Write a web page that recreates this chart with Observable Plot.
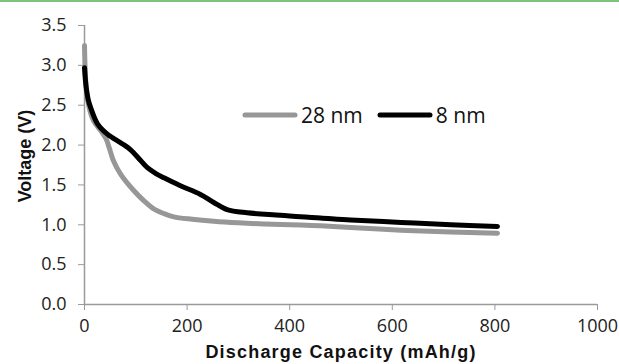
<!DOCTYPE html>
<html>
<head>
<meta charset="utf-8">
<script src="https://cdn.jsdelivr.net/npm/d3@7"></script>
<script src="https://cdn.jsdelivr.net/npm/@observablehq/plot@0.6"></script>
<style>
  html, body { margin: 0; padding: 0; background: #fff; }
  #wrap { position: relative; width: 619px; height: 364px; overflow: hidden; }
  #topline { position: absolute; left: 0; top: 0; width: 619px; height: 2px; background: #7dc47f; }
  #legend { position: absolute; left: 242px; top: 101px; font-family: "Open Sans", sans-serif; font-size: 21px; color: #111; display: flex; align-items: center; white-space: nowrap; }
  #legend .item { display: flex; align-items: center; }
  #legend svg { display: block; }
</style>
</head>
<body>
<div id="wrap">
  <div id="chart"></div>
  <div id="topline"></div>
  <div id="legend"></div>
</div>
<script>
const seriesNames = ["28 nm", "8 nm"];
const seriesColors = ["#979797", "#000000"];

const cap28 = [0, 1, 3, 8, 18, 32, 42, 48, 56, 70, 96, 116, 135, 155, 174, 210, 252, 300, 350, 421, 460, 519, 617, 714, 805];
const volt28 = [3.25, 3.0, 2.75, 2.5, 2.3, 2.18, 2.08, 1.97, 1.81, 1.64, 1.43, 1.3, 1.2, 1.14, 1.1, 1.07, 1.045, 1.025, 1.01, 0.997, 0.987, 0.965, 0.932, 0.91, 0.895];

const cap8 = [0, 2, 4, 8, 12, 25, 44, 70, 80, 90, 109, 122, 140, 155, 187, 226, 252, 278, 317, 382, 421, 460, 519, 617, 714, 805];
const volt8 = [2.97, 2.8, 2.69, 2.55, 2.47, 2.27, 2.14, 2.03, 1.99, 1.94, 1.81, 1.72, 1.64, 1.59, 1.49, 1.38, 1.28, 1.19, 1.15, 1.12, 1.1, 1.085, 1.06, 1.03, 1.0, 0.98];

const xTicks = [0, 200, 400, 600, 800, 1000];
const yTicks = [0, 0.5, 1.0, 1.5, 2.0, 2.5, 3.0, 3.5];

const xTitle = "Discharge Capacity (mAh/g)";
const yTitle = "Voltage (V)";

const data = [
  ...cap28.map((c, i) => ({series: seriesNames[0], cap: c, v: volt28[i]})),
  ...cap8.map((c, i) => ({series: seriesNames[1], cap: c, v: volt8[i]}))
];

const axisColor = "#9a9a9a";

const chart = Plot.plot({
  width: 619,
  height: 364,
  marginTop: 25,
  marginRight: 22,
  marginBottom: 60,
  marginLeft: 84,
  style: {fontFamily: "'Open Sans', sans-serif", fontSize: "18px", color: "#222", background: "#fff", overflow: "visible"},
  x: {domain: [0, 1000], ticks: xTicks, label: null},
  y: {domain: [0, 3.5], ticks: yTicks, label: null},
  color: {domain: seriesNames, range: seriesColors},
  marks: [
    Plot.ruleX([0], {stroke: axisColor, strokeWidth: 1.5}),
    Plot.ruleY([0], {stroke: axisColor, strokeWidth: 1.5}),
    Plot.axisX({ticks: xTicks, tickSize: 6, tickPadding: 9, stroke: axisColor, tickFormat: d => String(d), fill: "#222"}),
    Plot.axisY({ticks: yTicks, tickSize: 6, tickPadding: 12, stroke: axisColor, tickFormat: d => d.toFixed(1), fill: "#222"}),
    Plot.line(data, {x: "cap", y: "v", z: "series", stroke: "series", strokeWidth: 5, curve: "catmull-rom", strokeLinejoin: "round", strokeLinecap: "round"}),
    Plot.text([xTitle], {frameAnchor: "bottom", textAnchor: "middle", lineAnchor: "middle", dy: 48, fontFamily: "'Liberation Sans', Arial, sans-serif", fontWeight: "bold", fontSize: 18, fill: "#111", className: "xtitle"}),
    Plot.text([yTitle], {frameAnchor: "left", textAnchor: "middle", lineAnchor: "middle", dx: -59, dy: -9, rotate: -90, fontFamily: "'Liberation Sans', Arial, sans-serif", fontWeight: "bold", fontSize: 18, fill: "#111"})
  ]
});
d3.select(chart).selectAll(".xtitle text").style("letter-spacing", "1.2px");
document.getElementById("chart").appendChild(chart);

// legend
const legend = document.getElementById("legend");
seriesNames.forEach((name, i) => {
  const item = document.createElement("div");
  item.className = "item";
  item.style.marginRight = i === 0 ? "14px" : "0";
  const sw = d3.create("svg").attr("width", 56).attr("height", 26);
  sw.append("line").attr("x1", 3).attr("x2", 53).attr("y1", 13).attr("y2", 13)
    .attr("stroke", seriesColors[i]).attr("stroke-width", 5).attr("stroke-linecap", "round");
  item.appendChild(sw.node());
  const t = document.createElement("span");
  t.textContent = name;
  t.style.marginLeft = "3px";
  item.appendChild(t);
  legend.appendChild(item);
});
</script>
</body>
</html>
